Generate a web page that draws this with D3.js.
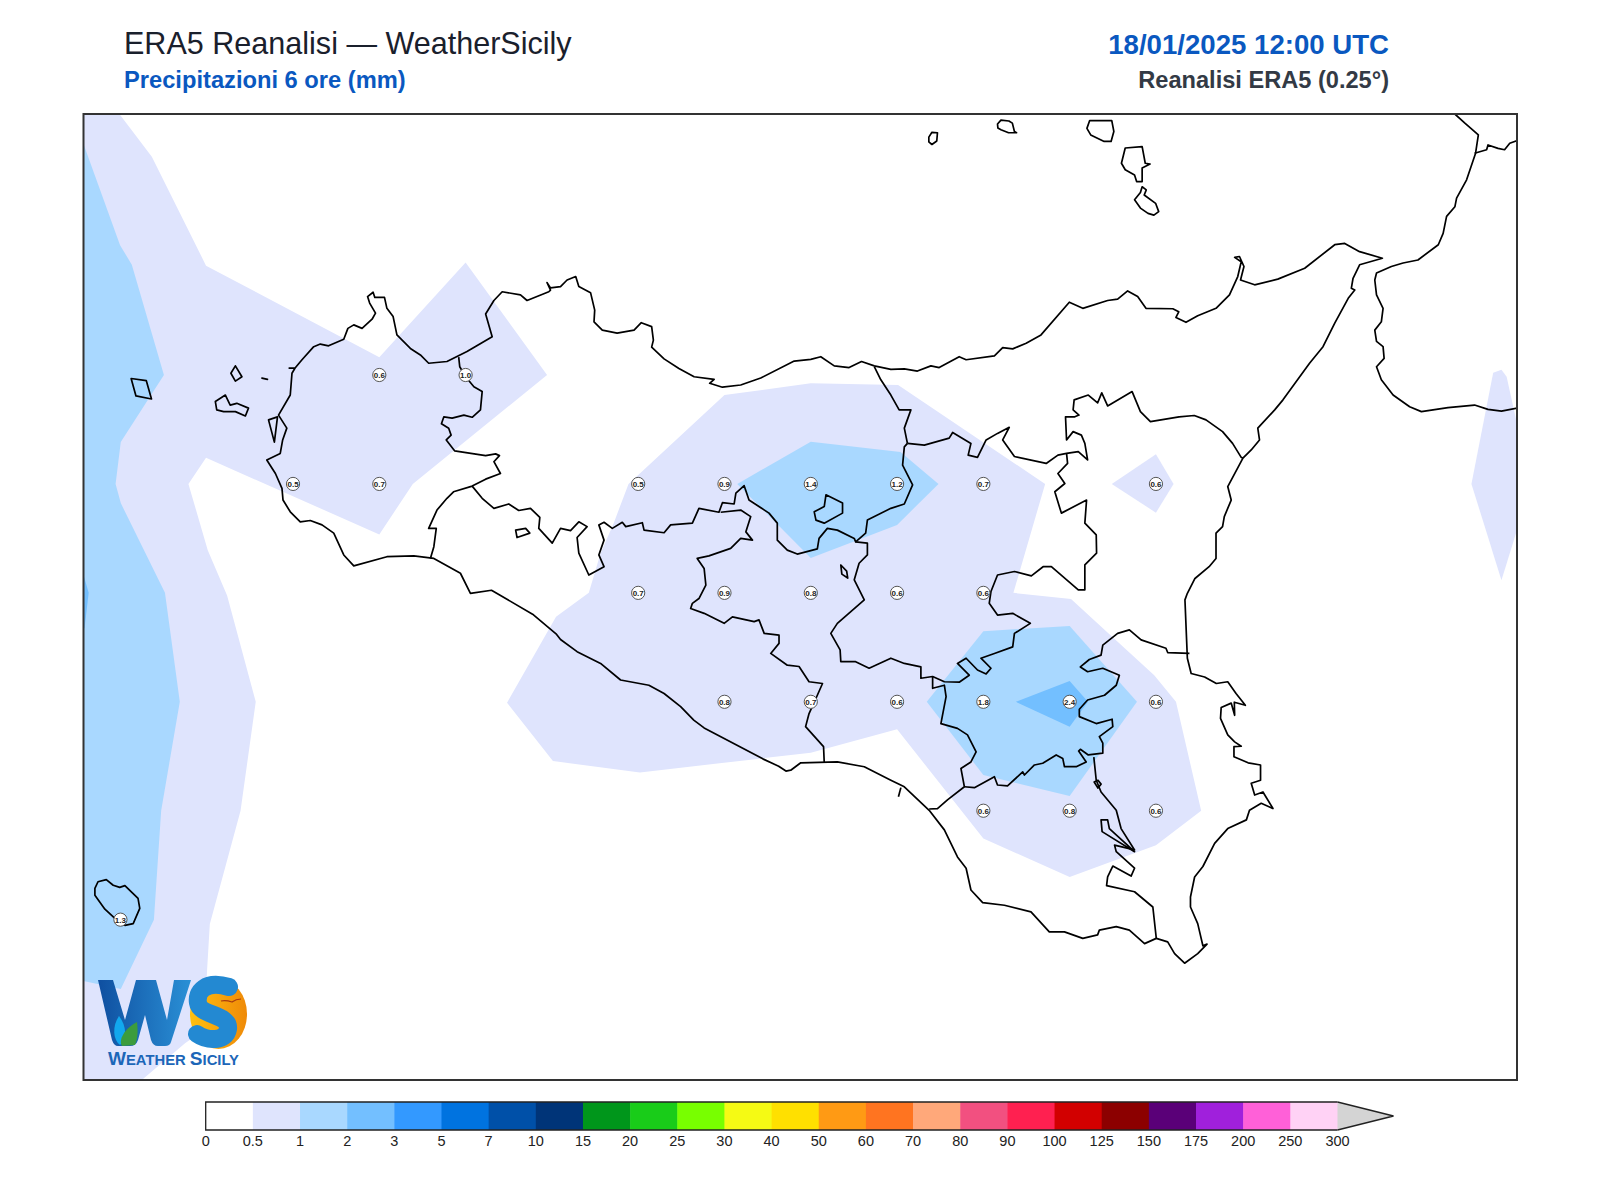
<!DOCTYPE html>
<html lang="en">
<head>
    <meta charset="UTF-8">
    <title>ERA5 Reanalisi - WeatherSicily</title>
    <script src="https://d3js.org/d3.v7.min.js"></script>
    <style>
        html, body { margin: 0; padding: 0; background: #fff; }
        svg { display: block; }
        text { font-family: "Liberation Sans", Arial, sans-serif; }
    </style>
</head>
<body>
<svg id="chart" width="1600" height="1200"></svg>
<script>
// colour scale
const tickLabels = ['0','0.5','1','2','3','5','7','10','15','20','25','30','40','50','60','70','80','90','100','125','150','175','200','250','300'];
const bandColors = ['#ffffff','#dfe4fd','#a9d8ff','#73bfff','#3399ff','#0073e0','#0050a8','#003478','#00961b','#19cc19','#78ff00','#f5fa14','#ffe000','#ff9a14','#ff7420','#ffa87a','#f25080','#ff2050','#d20000','#8c0000','#5a0078','#a020dc','#ff60d8','#ffd2f5'];
const overColor = '#d4d4d4';

// map extent, lon / lat
const lonExtent = [11.893, 16.046];
const latExtent = [36.382, 38.599];

// ERA5 grid values shown on the map [lon, lat, mm]
const gridValues = [
    [12.75,38,0.6],[13,38,1.0],
    [12.5,37.75,0.5],[12.75,37.75,0.7],[13.5,37.75,0.5],[13.75,37.75,0.9],[14,37.75,1.4],[14.25,37.75,1.2],[14.5,37.75,0.7],[15,37.75,0.6],
    [13.5,37.5,0.7],[13.75,37.5,0.9],[14,37.5,0.8],[14.25,37.5,0.6],[14.5,37.5,0.6],
    [13.75,37.25,0.8],[14,37.25,0.7],[14.25,37.25,0.6],[14.5,37.25,1.8],[14.75,37.25,2.4],[15,37.25,0.6],
    [14.5,37,0.6],[14.75,37,0.8],[15,37,0.6],
    [12,36.75,1.3]
];

// filled contour bands, lon / lat
const band05West = [[11.893,38.599],[11.997,38.599],[12.091,38.501],[12.248,38.251],[12.75,38.041],[13,38.258],[13.236,38],[12.847,37.75],[12.75,37.634],[12.248,37.81],[12.197,37.75],[12.253,37.598],[12.309,37.494],[12.392,37.25],[12.348,37],[12.259,36.74],[12.251,36.634],[12.243,36.496],[12.188,36.467],[12.062,36.382],[11.893,36.382]];
const band05Center = [[13.75,37.954],[14,37.981],[14.253,37.977],[14.679,37.75],[14.587,37.5],[14.754,37.486],[14.821,37.437],[14.995,37.311],[15.058,37.25],[15.131,37],[15,36.921],[14.75,36.848],[14.5,36.936],[14.25,37.187],[14,37.133],[13.505,37.088],[13.253,37.114],[13.12,37.248],[13.262,37.445],[13.357,37.5],[13.391,37.591],[13.429,37.66],[13.472,37.75]];
const band05East = [[15.977,38.005],[16.001,38.012],[16.016,37.996],[16.046,37.888],[16.046,37.644],[16.001,37.529],[15.914,37.75]];
const band05Small = [[14.872,37.75],[15,37.818],[15.051,37.75],[15,37.684]];
const band1West = [[11.893,38.53],[11.999,38.298],[12.033,38.253],[12.126,38],[12.001,37.846],[11.986,37.75],[12.001,37.706],[12.129,37.5],[12.172,37.25],[12.118,37],[12.097,36.75],[12.001,36.591],[11.893,36.609]];
const band1North = [[14,37.847],[14.26,37.823],[14.37,37.75],[14.25,37.656],[14,37.58],[13.787,37.75]];
const band1Southeast = [[14.5,37.412],[14.75,37.424],[14.945,37.25],[14.75,37.034],[14.5,37.082],[14.336,37.25]];
const band2West = [[11.893,37.541],[11.908,37.5],[11.896,37.419],[11.893,37.419]];
const band2Southeast = [[14.594,37.25],[14.75,37.298],[14.803,37.25],[14.75,37.193]];

// coast of Sicily, clockwise from Trapani
const coastSicily = [[12.489,38.016],[12.506,38.016],[12.526,38.035],[12.56,38.065],[12.579,38.071],[12.603,38.067],[12.647,38.082],[12.659,38.107],[12.676,38.115],[12.7,38.107],[12.729,38.128],[12.739,38.142],[12.722,38.165],[12.716,38.18],[12.732,38.19],[12.737,38.178],[12.765,38.178],[12.772,38.153],[12.79,38.134],[12.801,38.092],[12.84,38.061],[12.869,38.046],[12.893,38.027],[12.946,38.031],[13.004,38.054],[13.077,38.088],[13.058,38.14],[13.082,38.171],[13.106,38.191],[13.159,38.184],[13.178,38.171],[13.241,38.191],[13.246,38.195],[13.236,38.212],[13.246,38.2],[13.275,38.203],[13.294,38.218],[13.319,38.226],[13.328,38.203],[13.362,38.189],[13.374,38.149],[13.372,38.122],[13.396,38.103],[13.439,38.096],[13.488,38.103],[13.509,38.12],[13.539,38.111],[13.544,38.08],[13.539,38.064],[13.575,38.037],[13.618,38.015],[13.662,37.996],[13.72,37.99],[13.707,37.981],[13.744,37.972],[13.797,37.977],[13.855,37.993],[13.952,38.032],[14,38.036],[14.029,38.042],[14.068,38.021],[14.111,38.017],[14.147,38.031],[14.184,38.021],[14.232,38.013],[14.271,38.014],[14.309,38.009],[14.348,38.021],[14.372,38.017],[14.43,38.042],[14.45,38.035],[14.532,38.044],[14.556,38.063],[14.585,38.06],[14.624,38.073],[14.667,38.092],[14.749,38.167],[14.788,38.153],[14.86,38.171],[14.889,38.174],[14.918,38.193],[14.947,38.18],[14.971,38.153],[15.049,38.152],[15.066,38.145],[15.058,38.132],[15.087,38.121],[15.121,38.136],[15.174,38.153],[15.213,38.184],[15.237,38.226],[15.247,38.26],[15.228,38.27],[15.242,38.272],[15.255,38.249],[15.245,38.218],[15.286,38.207],[15.353,38.22],[15.431,38.245],[15.518,38.299],[15.547,38.302],[15.59,38.283],[15.656,38.268],[15.59,38.253],[15.571,38.222],[15.566,38.199],[15.576,38.195],[15.557,38.176],[15.518,38.119],[15.484,38.065],[15.445,38.027],[15.368,37.943],[15.344,37.92],[15.295,37.878],[15.3,37.851],[15.276,37.828],[15.252,37.809],[15.208,37.744],[15.218,37.713],[15.198,37.675],[15.193,37.652],[15.174,37.637],[15.174,37.579],[15.154,37.56],[15.113,37.533],[15.091,37.499],[15.084,37.484],[15.091,37.35],[15.102,37.315],[15.141,37.307],[15.175,37.292],[15.208,37.296],[15.232,37.269],[15.259,37.242],[15.227,37.249],[15.228,37.219],[15.218,37.247],[15.189,37.237],[15.187,37.212],[15.208,37.174],[15.228,37.158],[15.247,37.148],[15.226,37.147],[15.226,37.124],[15.267,37.11],[15.303,37.105],[15.303,37.07],[15.276,37.063],[15.286,37.036],[15.31,37.043],[15.339,37.005],[15.305,37.017],[15.271,37.001],[15.262,36.979],[15.208,36.959],[15.17,36.925],[15.136,36.872],[15.112,36.848],[15.1,36.802],[15.1,36.779],[15.121,36.741],[15.136,36.69],[15.148,36.694],[15.121,36.672],[15.083,36.65],[15.054,36.672],[15.034,36.699],[15.001,36.707],[14.967,36.695],[14.923,36.726],[14.885,36.734],[14.836,36.726],[14.831,36.715],[14.788,36.707],[14.735,36.722],[14.691,36.722],[14.638,36.768],[14.561,36.783],[14.498,36.789],[14.464,36.818],[14.45,36.868],[14.425,36.894],[14.387,36.956],[14.343,37.001],[14.271,37.055],[14.232,37.07],[14.155,37.101],[14.077,37.112],[13.971,37.11],[13.942,37.093],[13.928,37.091],[13.907,37.102],[13.861,37.119],[13.691,37.19],[13.661,37.208],[13.623,37.239],[13.575,37.269],[13.531,37.288],[13.449,37.3],[13.391,37.338],[13.323,37.365],[13.275,37.393],[13.262,37.406],[13.194,37.451],[13.075,37.506],[13.014,37.499],[12.985,37.545],[12.908,37.579],[12.85,37.585],[12.772,37.583],[12.676,37.562],[12.647,37.587],[12.618,37.637],[12.584,37.656],[12.55,37.666],[12.521,37.663],[12.492,37.686],[12.471,37.713],[12.468,37.74],[12.449,37.774],[12.424,37.805],[12.463,37.82],[12.47,37.851],[12.482,37.878],[12.458,37.908],[12.492,37.954],[12.497,38.004],[12.506,38.016]];

// coast of Calabria
const coastCalabria = [[15.866,38.599],[15.895,38.578],[15.934,38.551],[15.926,38.509],[15.9,38.448],[15.871,38.406],[15.866,38.386],[15.842,38.364],[15.832,38.325],[15.818,38.299],[15.759,38.264],[15.716,38.257],[15.682,38.249],[15.639,38.234],[15.634,38.218],[15.639,38.184],[15.658,38.153],[15.653,38.122],[15.634,38.103],[15.639,38.077],[15.658,38.065],[15.661,38.038],[15.639,38.019],[15.653,37.989],[15.687,37.954],[15.735,37.927],[15.769,37.916],[15.846,37.925],[15.923,37.931],[15.962,37.921],[16.001,37.917],[16.047,37.924]];
const borderCalabria = [[15.923,38.509],[15.958,38.517],[15.962,38.528],[15.991,38.52],[16.01,38.517],[16.025,38.532],[16.047,38.538]];

// province borders
const borderTrapani = [[12.98,38.041],[12.983,38.019],[13,37.996],[13.024,37.973],[13.048,37.962],[13.043,37.92],[13.019,37.903],[12.995,37.908],[12.961,37.901],[12.937,37.904],[12.93,37.888],[12.951,37.878],[12.958,37.862],[12.944,37.851],[12.968,37.826],[13.058,37.815],[13.087,37.819],[13.098,37.815],[13.082,37.801],[13.101,37.774],[13.058,37.761],[13.019,37.745],[12.965,37.732],[12.946,37.717],[12.917,37.69],[12.893,37.648],[12.915,37.648],[12.908,37.606],[12.898,37.579]];
const borderPalermoSouth = [[13.019,37.745],[13.048,37.717],[13.082,37.694],[13.125,37.704],[13.154,37.689],[13.188,37.694],[13.215,37.673],[13.212,37.648],[13.251,37.614],[13.275,37.648],[13.304,37.643],[13.328,37.663],[13.352,37.652],[13.323,37.627],[13.328,37.591],[13.357,37.541],[13.401,37.56],[13.386,37.587],[13.401,37.621],[13.386,37.656],[13.401,37.662],[13.425,37.648],[13.454,37.662],[13.464,37.652],[13.512,37.661],[13.517,37.644],[13.575,37.638],[13.594,37.656],[13.657,37.66],[13.676,37.694],[13.734,37.685],[13.744,37.707],[13.778,37.704],[13.783,37.729],[13.807,37.746],[13.821,37.713],[13.879,37.683],[13.903,37.66],[13.903,37.621],[13.932,37.598],[13.961,37.589],[14.019,37.601],[14.024,37.625],[14.048,37.648],[14.077,37.644],[14.126,37.625],[14.13,37.617],[14.159,37.637],[14.164,37.667],[14.232,37.694],[14.271,37.704],[14.295,37.748],[14.266,37.793],[14.271,37.835],[14.28,37.843]];
const borderMessina = [[14.28,37.843],[14.329,37.839],[14.401,37.855],[14.411,37.868],[14.464,37.843],[14.456,37.816],[14.483,37.811],[14.508,37.851],[14.541,37.866],[14.575,37.88],[14.556,37.851],[14.59,37.813],[14.682,37.797],[14.716,37.816],[14.741,37.82],[14.775,37.824],[14.802,37.805],[14.794,37.843],[14.784,37.862],[14.76,37.87],[14.741,37.851],[14.738,37.904],[14.765,37.904],[14.777,37.908],[14.76,37.92],[14.763,37.943],[14.804,37.954],[14.831,37.936],[14.843,37.959],[14.86,37.929],[14.931,37.962],[14.955,37.916],[14.984,37.893],[15.067,37.904],[15.111,37.907],[15.145,37.897],[15.193,37.87],[15.222,37.843],[15.247,37.811],[15.252,37.809]];
const borderPalermoEast = [[14.28,37.843],[14.271,37.878],[14.29,37.92],[14.256,37.92],[14.232,37.954],[14.203,37.989],[14.184,38.019]];
const borderCatania = [[14.741,37.82],[14.744,37.797],[14.716,37.774],[14.736,37.751],[14.707,37.732],[14.726,37.683],[14.799,37.713],[14.794,37.66],[14.827,37.633],[14.828,37.591],[14.794,37.564],[14.794,37.507],[14.775,37.507],[14.697,37.56],[14.673,37.56],[14.639,37.539],[14.59,37.549],[14.541,37.541],[14.522,37.503],[14.517,37.476],[14.541,37.449],[14.585,37.453],[14.636,37.43],[14.59,37.407],[14.585,37.376],[14.532,37.361],[14.493,37.35],[14.522,37.327],[14.508,37.314],[14.483,37.323],[14.45,37.35],[14.425,37.338],[14.459,37.311],[14.43,37.295],[14.387,37.296],[14.353,37.308],[14.319,37.304],[14.319,37.33],[14.271,37.338],[14.232,37.35],[14.169,37.327],[14.13,37.342],[14.087,37.342],[14.085,37.369],[14.058,37.407],[14.077,37.43],[14.155,37.484],[14.126,37.53],[14.14,37.568],[14.164,37.587],[14.164,37.614],[14.13,37.617]];
const borderEnnaSouth = [[14.353,37.308],[14.353,37.281],[14.387,37.288],[14.392,37.262],[14.377,37.2],[14.425,37.189],[14.454,37.174],[14.479,37.135],[14.464,37.112],[14.435,37.097],[14.445,37.055],[14.396,37.025],[14.367,37.005],[14.343,37.004]];
const borderCataniaSouth = [[14.445,37.055],[14.474,37.053],[14.532,37.078],[14.541,37.059],[14.57,37.057],[14.614,37.089],[14.619,37.082],[14.648,37.105],[14.672,37.109],[14.711,37.128],[14.73,37.12],[14.735,37.101],[14.769,37.101],[14.798,37.112],[14.776,37.137],[14.781,37.141],[14.804,37.128],[14.846,37.132],[14.846,37.155],[14.836,37.17],[14.875,37.193],[14.873,37.21],[14.827,37.2],[14.778,37.216],[14.778,37.233],[14.802,37.254],[14.851,37.265],[14.885,37.288],[14.894,37.311],[14.846,37.327],[14.802,37.319],[14.781,37.33],[14.807,37.347],[14.841,37.357],[14.846,37.38],[14.889,37.407],[14.923,37.415],[14.957,37.392],[15.029,37.373],[15.034,37.363],[15.097,37.361]];
const borderSiracusa = [[14.82,37.123],[14.827,37.07],[14.841,37.043],[14.885,37.001],[14.899,36.959],[14.938,36.91],[14.88,36.921],[14.885,36.906],[14.938,36.868],[14.928,36.85],[14.875,36.873],[14.86,36.848],[14.857,36.828],[14.938,36.814],[14.991,36.779],[15.001,36.707]];
const borderAgrigento = [[13.739,37.685],[13.797,37.69],[13.826,37.675],[13.812,37.64],[13.831,37.621],[13.797,37.625],[13.768,37.602],[13.705,37.585],[13.671,37.579],[13.691,37.556],[13.696,37.518],[13.676,37.487],[13.657,37.476],[13.652,37.464],[13.691,37.453],[13.749,37.43],[13.773,37.445],[13.836,37.434],[13.85,37.438],[13.865,37.407],[13.908,37.403],[13.908,37.384],[13.884,37.361],[13.932,37.334],[13.966,37.331],[13.995,37.296],[14.034,37.292],[14.019,37.265],[13.995,37.223],[13.985,37.193],[14.037,37.147],[14.039,37.11]];
const borderStub = [[14.261,37.053],[14.254,37.032]];
const openLines = [borderCalabria, borderTrapani, borderPalermoSouth, borderMessina, borderPalermoEast, borderCatania, borderEnnaSouth, borderCataniaSouth, borderSiracusa, borderAgrigento, borderStub, coastCalabria];

// islands and lakes
const pantelleria = [[11.926,36.822],[11.935,36.837],[11.959,36.842],[11.979,36.829],[11.998,36.824],[12.013,36.828],[12.051,36.799],[12.056,36.776],[12.037,36.741],[12.013,36.737],[11.984,36.753],[11.955,36.774],[11.926,36.806]];
const favignana = [[12.275,37.939],[12.304,37.954],[12.318,37.931],[12.337,37.935],[12.371,37.924],[12.362,37.906],[12.333,37.916],[12.299,37.916],[12.279,37.92]];
const levanzo = [[12.333,38.021],[12.352,37.996],[12.333,37.986],[12.32,38.004]];
const formica = [[12.41,37.993],[12.426,37.99]];
const marettimo = [[12.031,37.992],[12.075,37.987],[12.09,37.945],[12.045,37.952]];
const stagnone = [[12.429,37.897],[12.455,37.904],[12.446,37.846]];
const salina = [[14.8,38.566],[14.808,38.584],[14.872,38.584],[14.878,38.559],[14.87,38.536],[14.85,38.536],[14.811,38.551]];
const lipari = [[14.9,38.486],[14.911,38.521],[14.96,38.524],[14.969,38.486],[14.983,38.484],[14.96,38.475],[14.96,38.444],[14.944,38.444],[14.938,38.459],[14.911,38.471]];
const vulcano = [[14.96,38.432],[14.972,38.425],[14.966,38.413],[14.999,38.394],[15.008,38.375],[14.994,38.367],[14.977,38.371],[14.955,38.383],[14.938,38.402],[14.955,38.419]];
const filicudi = [[14.541,38.576],[14.551,38.585],[14.574,38.583],[14.584,38.578],[14.59,38.559],[14.596,38.556],[14.573,38.556],[14.551,38.563],[14.542,38.567]];
const alicudi = [[14.342,38.546],[14.351,38.557],[14.367,38.556],[14.365,38.537],[14.351,38.529],[14.342,38.535]];
const lakeAncipa = [[14.044,37.725],[14.092,37.706],[14.092,37.683],[14.039,37.66],[14.015,37.667],[14.01,37.686],[14.039,37.698]];
const lakePergusa = [[14.087,37.564],[14.104,37.55],[14.107,37.534],[14.09,37.543]];
const lakeArancio = [[13.145,37.644],[13.174,37.648],[13.186,37.637],[13.149,37.627]];
const lakeBiviere = [[14.841,36.979],[14.86,36.979],[14.865,36.959],[14.938,36.906],[14.844,36.952]];
const lakeSmall = [[14.821,37.066],[14.832,37.07],[14.841,37.061],[14.832,37.052]];
const closedLines = [coastSicily, pantelleria, favignana, levanzo, formica, marettimo, stagnone, salina, lipari, vulcano, filicudi, alicudi, lakeAncipa, lakePergusa, lakeArancio, lakeBiviere, lakeSmall];

const frame = {l: 83.5, r: 1517, t: 114, b: 1080};
const barX = [205.7, 1337.5];
const svg = d3.select('#chart');

const x = d3.scaleLinear().domain(lonExtent).range([frame.l, frame.r]);
const y = d3.scaleLinear().domain(latExtent).range([frame.b, frame.t]);
const line = d3.line().x(d => x(d[0])).y(d => y(d[1]));
const closed = d3.line().x(d => x(d[0])).y(d => y(d[1])).curve(d3.curveLinearClosed);

svg.append('clipPath').attr('id', 'mapClip').append('rect')
    .attr('x', frame.l).attr('y', frame.t).attr('width', frame.r - frame.l).attr('height', frame.b - frame.t);
const map = svg.append('g').attr('clip-path', 'url(#mapClip)');

// bands
const bands = [
    [band05West, band05Center, band05East, band05Small, bandColors[1]],
    [band1West, band1North, band1Southeast, bandColors[2]],
    [band2West, band2Southeast, bandColors[3]]
];
bands.forEach(b => {
    const color = b[b.length - 1];
    map.selectAll(null).data(b.slice(0, -1)).join('path')
        .attr('d', closed).attr('fill', color);
});

// coast and borders
map.selectAll(null).data(openLines).join('path')
    .attr('d', line).attr('fill', 'none').attr('stroke', '#000').attr('stroke-width', 1.7).attr('stroke-linejoin', 'round');
map.selectAll(null).data(closedLines).join('path')
    .attr('d', closed).attr('fill', 'none').attr('stroke', '#000').attr('stroke-width', 1.7).attr('stroke-linejoin', 'round');

// grid values
const cell = map.selectAll(null).data(gridValues).join('g')
    .attr('transform', d => `translate(${x(d[0])},${y(d[1])})`);
cell.append('circle').attr('r', 6.6).attr('fill', '#fff').attr('stroke', '#555').attr('stroke-width', 1);
cell.append('text').attr('text-anchor', 'middle').attr('dy', 2.9).attr('font-size', 8).attr('font-weight', 'bold').attr('fill', '#222')
    .text(d => d[2].toFixed(1));

svg.append('rect').attr('x', frame.l).attr('y', frame.t).attr('width', frame.r - frame.l).attr('height', frame.b - frame.t)
    .attr('fill', 'none').attr('stroke', '#333').attr('stroke-width', 2);

// titles
svg.append('text').attr('x', 124).attr('y', 54).attr('font-size', 30.55).attr('fill', '#1a202c').text('ERA5 Reanalisi — WeatherSicily');
svg.append('text').attr('x', 124).attr('y', 88).attr('font-size', 23.7).attr('font-weight', 'bold').attr('fill', '#0a58c0').text('Precipitazioni 6 ore (mm)');
svg.append('text').attr('x', 1389).attr('y', 54).attr('text-anchor', 'end').attr('font-size', 27.6).attr('font-weight', 'bold').attr('fill', '#0a58c0').text('18/01/2025 12:00 UTC');
svg.append('text').attr('x', 1389).attr('y', 88).attr('text-anchor', 'end').attr('font-size', 23.6).attr('font-weight', 'bold').attr('fill', '#333a45').text('Reanalisi ERA5 (0.25°)');

// colourbar
const barScale = d3.scalePoint().domain(tickLabels).range(barX);
const barTop = 1102, barH = 28;
const cb = svg.append('g');
cb.selectAll('rect').data(bandColors).join('rect')
    .attr('x', (d, i) => barScale(tickLabels[i]))
    .attr('y', barTop)
    .attr('width', barScale.step() + 0.5)
    .attr('height', barH)
    .attr('fill', d => d);
const tipLen = 56;
cb.append('path')
    .attr('d', d3.line()([[barX[1], barTop], [barX[1] + tipLen, barTop + barH / 2], [barX[1], barTop + barH]]))
    .attr('fill', overColor).attr('stroke', '#222').attr('stroke-width', 1.3);
cb.append('path')
    .attr('d', d3.line()([[barX[1], barTop], [barX[0], barTop], [barX[0], barTop + barH], [barX[1], barTop + barH]]))
    .attr('fill', 'none').attr('stroke', '#222').attr('stroke-width', 1.3);
cb.append('g').selectAll('text').data(tickLabels).join('text')
    .attr('x', d => barScale(d)).attr('y', barTop + barH + 16)
    .attr('text-anchor', 'middle').attr('font-size', 14.5).attr('fill', '#222')
    .text(d => d);

// logo
const defs = svg.append('defs');
const wGrad = defs.append('linearGradient').attr('id', 'wGrad');
wGrad.append('stop').attr('offset', '0').attr('stop-color', '#0f4fa0');
wGrad.append('stop').attr('offset', '1').attr('stop-color', '#2a90d6');
const sunGrad = defs.append('linearGradient').attr('id', 'sunGrad').attr('x1', 0).attr('x2', 1);
sunGrad.append('stop').attr('offset', '0').attr('stop-color', '#ffc010');
sunGrad.append('stop').attr('offset', '1').attr('stop-color', '#ef8a08');
const logo = svg.append('g');
logo.append('ellipse').attr('cx', 218.5).attr('cy', 1014).attr('rx', 28.5).attr('ry', 35).attr('fill', 'url(#sunGrad)');
logo.append('path').attr('d', 'M98 980 L113 980 L125 1020 L136 980 L156 980 L167 1020 L174 980 L191 980 L171 1042 Q170 1046 165 1046 L158 1046 Q153 1046 151 1040 L145 1015 L138 1040 Q136 1046 130 1046 L118 1046 Q114 1046 112 1040 Z')
    .attr('fill', 'url(#wGrad)');
logo.append('path').attr('d', 'M229 987 C205 980 196 992 198 1003 C200 1016 230 1014 228 1029 C226 1042 207 1041 197 1034')
    .attr('fill', 'none').attr('stroke', '#2389d2').attr('stroke-width', 18).attr('stroke-linecap', 'round');
logo.append('path').attr('d', 'M119 1016 C112 1026 113 1040 120 1045 C127 1040 127 1026 119 1016 Z').attr('fill', '#12a8ee');
logo.append('path').attr('d', 'M137 1022 C125 1028 118 1040 122 1046 L135 1045 C138 1038 138 1030 137 1022 Z').attr('fill', '#3c9c3c');
logo.append('path').attr('d', 'M221 1001 Q226 1000 232 1002 Q236 999 241 999').attr('fill', 'none').attr('stroke', '#a83a10').attr('stroke-width', 1.2);
const logoText = logo.append('text').attr('x', 108).attr('y', 1065).attr('font-weight', 'bold').attr('fill', '#1c66b8')
    .attr('textLength', 131).attr('lengthAdjust', 'spacingAndGlyphs');
[['W', 18], ['EATHER ', 14], ['S', 18], ['ICILY', 14]].forEach(d => {
    logoText.append('tspan').attr('font-size', d[1]).text(d[0]);
});
</script>
</body>
</html>
